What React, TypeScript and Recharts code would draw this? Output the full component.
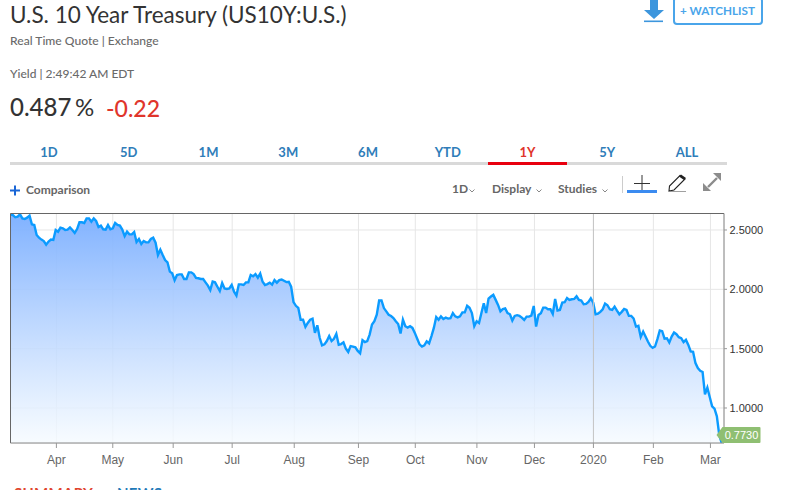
import React from "react";
import { AreaChart, Area, XAxis, YAxis, CartesianGrid, ReferenceLine, ReferenceDot } from "recharts";

const yieldsSpringSummer = [2.632,2.626,2.607,2.612,2.632,2.598,2.593,2.604,2.621,2.548,2.542,2.458,2.435,2.419,2.407,2.376,2.402,2.419,2.416,2.5,2.486,2.52,2.514,2.5,2.503,2.522,2.5,2.475,2.508,2.565,2.565,2.559,2.598,2.598,2.57,2.598,2.576,2.525,2.537,2.506,2.503,2.542,2.506,2.514,2.559,2.542,2.537,2.503,2.449,2.486,2.463,2.463,2.483,2.399,2.424,2.382,2.407,2.396,2.396,2.424,2.435,2.393,2.289,2.334,2.289,2.247,2.228,2.149,2.135,2.076,2.121,2.126,2.126,2.087,2.087,2.143,2.143,2.129,2.096,2.093,2.087,2.087,2.059,2.031,1.994,2.065,2.059,2.022,1.986,2.053,2.008,2.003,2.008,2.037,1.98,1.947,2.042,2.042,2.037,2.059,2.059,2.121,2.11,2.129,2.098];
const yieldsAutumn = [2.133,2.064,2.036,2.044,2.056,2.039,2.078,2.056,2.078,2.083,2.072,2.061,2.064,2.022,1.892,1.861,1.844,1.744,1.744,1.683,1.717,1.744,1.753,1.633,1.697,1.592,1.528,1.536,1.564,1.606,1.564,1.583,1.625,1.533,1.539,1.553,1.5,1.472,1.522,1.517,1.511,1.481,1.461,1.572,1.556,1.564,1.619,1.703,1.731,1.786,1.906,1.906,1.842,1.814,1.786,1.775,1.758,1.731,1.708,1.628,1.744,1.689,1.678,1.689,1.675,1.633,1.583,1.536,1.517,1.528,1.561,1.544,1.606,1.675,1.767,1.744,1.772,1.75,1.761,1.753,1.756,1.8,1.772,1.764,1.772,1.806,1.806,1.861,1.844,1.8,1.689,1.731,1.717,1.8,1.883,1.8,1.922,1.939,1.953,1.911,1.869,1.814,1.833,1.839,1.8];
const yieldsWinter = [1.79,1.737,1.776,1.782,1.776,1.762,1.742,1.77,1.77,1.779,1.86,1.686,1.784,1.798,1.846,1.846,1.832,1.832,1.793,1.919,1.821,1.826,1.888,1.891,1.927,1.91,1.916,1.919,1.941,1.91,1.905,1.874,1.877,1.894,1.924,1.888,1.79,1.796,1.81,1.832,1.88,1.866,1.832,1.826,1.854,1.821,1.79,1.81,1.835,1.826,1.776,1.776,1.754,1.686,1.692,1.599,1.644,1.602,1.56,1.524,1.507,1.518,1.58,1.653,1.647,1.585,1.588,1.552,1.602,1.636,1.622,1.597,1.588,1.555,1.574,1.532,1.476,1.473,1.378,1.336,1.314,1.303,1.115,1.171,1.092,1.014,0.994,0.93,0.773,0.706];
const monthLabels = ["Apr","May","Jun","Jul","Aug","Sep","Oct","Nov","Dec","2020","Feb","Mar"];
const monthSessions = [19.3,43,68.4,93.2,119.3,146.3,170.2,196.1,220.3,245.1,270.3,294.3];
const yieldTicks = [1,1.5,2,2.5];
const lastYield = 0.773;
const rangeTabs = ["1D","5D","1M","3M","6M","YTD","1Y","5Y","ALL"];

const allYields = [...yieldsSpringSummer, ...yieldsAutumn, ...yieldsWinter];
const rows = allYields.map((y, session) => ({ session, y }));
const maxSession = allYields.length;
const yDomain: [number, number] = [0.705, 2.639];

const ui = "Lato, 'Open Sans', sans-serif";
const T = (p: { x: number; y: number; s: number; c: string; w?: number; children: React.ReactNode; center?: boolean; sp?: number }) => (
  <div style={{ position: "absolute", left: p.x, top: p.y, fontSize: p.s, color: p.c, fontWeight: p.w ?? 400, fontFamily: ui, lineHeight: "1", whiteSpace: "nowrap", transform: p.center ? "translate(-50%,-50%)" : "translateY(-50%)", letterSpacing: p.sp ?? 0 }}>{p.children}</div>
);

const PriceTag = (props: any) => {
  const { cx, cy } = props;
  const l = cx - 2.5;
  return (
    <g>
      <path d={`M${l - 5} ${cy} L${l + 1} ${cy - 8} L${l + 38} ${cy - 8} Q${l + 39} ${cy - 8} ${l + 39} ${cy - 7} L${l + 39} ${cy + 7} Q${l + 39} ${cy + 8} ${l + 38} ${cy + 8} L${l + 1} ${cy + 8} Z`} fill="#8fbf72" />
      <text x={l + 20} y={cy + 4} textAnchor="middle" fontSize={11} fill="#fff" fontFamily="'Liberation Sans', Arial, sans-serif">{lastYield.toFixed(4)}</text>
    </g>
  );
};

const Chevron = ({ x, y }: { x: number; y: number }) => (
  <svg style={{ position: "absolute", left: x, top: y }} width="6" height="4"><path d="M0.5 0.5 L3 3 L5.5 0.5" stroke="#888" fill="none" strokeWidth="1" /></svg>
);

export default function App() {
  return (
    <div style={{ position: "absolute", left: 0, top: 0, width: 788, height: 490, overflow: "hidden", background: "#fff" }}>
      <T x={10} y={15} s={22.5} c="#333">U.S. 10 Year Treasury (US10Y:U.S.)</T>
      <T x={10} y={41} s={12.1} c="#6a6a6a" w={500}>Real Time Quote | Exchange</T>
      <T x={10} y={74} s={12} c="#6a6a6a" w={500}>Yield | 2:49:42 AM EDT</T>
      <T x={10} y={107} s={24} c="#333" w={500}>0.487</T>
      <T x={75} y={107} s={24} c="#333">%</T>
      <T x={106} y={108} s={23} c="#e0352b" w={500}>-0.22</T>

      <svg style={{ position: "absolute", left: 640, top: 0 }} width="28" height="26">
        <path d="M10 0 H18 V10 H24 L14 19 L4 10 H10 Z" fill="#3d96dd" />
        <rect x="4" y="20.5" width="19" height="1.6" fill="#3d96dd" />
      </svg>
      <div style={{ position: "absolute", left: 673, top: -3, width: 86, height: 24, border: "2px solid #4aa5ea", borderRadius: 4 }} />
      <T x={680} y={11} s={11.7} c="#4aa5ea" w={700}>+ WATCHLIST</T>

      {rangeTabs.map((t, i) => (
        <T key={t} x={49 + i * 79.75} y={152} s={13} c={t === "1Y" ? "#e0352b" : "#2f7db9"} w={700} center>{t}</T>
      ))}
      <div style={{ position: "absolute", left: 10, top: 162, width: 717, height: 3, background: "#d9d9d9" }} />
      <div style={{ position: "absolute", left: 488, top: 162, width: 79, height: 3, background: "#e8000f" }} />

      <svg style={{ position: "absolute", left: 10, top: 185 }} width="11" height="11"><path d="M0 5.5 H10 M5 0.5 V10.5" stroke="#1a66d6" strokeWidth="2" /></svg>
      <T x={26} y={190} s={12} c="#666" w={700}>Comparison</T>
      <T x={452} y={189} s={12} c="#666" w={700}>1D</T>
      <Chevron x={469} y={189} />
      <T x={492} y={189} s={12} c="#666" w={700}>Display</T>
      <Chevron x={536} y={189} />
      <T x={558} y={189} s={12} c="#666" w={700}>Studies</T>
      <Chevron x={602} y={189} />
      <div style={{ position: "absolute", left: 622, top: 176, width: 1, height: 17, background: "#ccc" }} />
      <svg style={{ position: "absolute", left: 625, top: 172 }} width="100" height="24">
        <path d="M9 11.5 H25 M17 3 V18" stroke="#333" strokeWidth="1" fill="none" />
        <rect x="2" y="18" width="30" height="3" fill="#3b8bf0" />
        <path d="M44 19 L44.5 14 L55 3.5 L60 7 L49 18 Z" fill="#fff" stroke="#222" strokeWidth="1.1" />
        <path d="M54 4.5 L56 2.5 L61 6 L59 8 Z" fill="#222" />
        <path d="M44 19.5 H61" stroke="#888" strokeWidth="0.8" />
        <path d="M83 15 L92 6" stroke="#8c8c8c" strokeWidth="2.4" />
        <path d="M96 1 V9 L88 1 Z M78 19 V11 L86 19 Z" fill="#8c8c8c" />
      </svg>

      <T x={14} y={493} s={15} c="#e0452f" w={700} sp={0.3}>SUMMARY</T>
      <T x={117} y={493} s={15} c="#1f7ab8" w={700} sp={0.3}>NEWS</T>

      <div style={{ position: "absolute", left: 0, top: 0 }}>
        <AreaChart width={788} height={490} data={rows} margin={{ top: 213.5, right: 0, bottom: 0, left: 10.5 }}>
          <defs>
            <linearGradient id="yieldFill" x1="0" y1="0" x2="0" y2="1">
              <stop offset="0%" stopColor="#7aaeff" stopOpacity={0.95} />
              <stop offset="100%" stopColor="#f6fbff" stopOpacity={0.8} />
            </linearGradient>
          </defs>
          <CartesianGrid stroke="#e6e6e6" strokeWidth={1} />
          <XAxis dataKey="session" type="number" domain={[0, maxSession]} ticks={monthSessions} interval={0}
            tickFormatter={(v: number) => monthLabels[monthSessions.indexOf(v)]} height={47}
            tick={{ fontSize: 12, fill: "#666", fontFamily: "'Liberation Sans', Arial, sans-serif" }}
            tickSize={5} tickMargin={7} tickLine={{ stroke: "#999" }} axisLine={{ stroke: "#888", strokeWidth: 1 }} />
          <YAxis orientation="right" type="number" domain={yDomain} allowDataOverflow ticks={yieldTicks} interval={0} width={64}
            tickFormatter={(v: number) => v.toFixed(4)}
            tick={{ fontSize: 11, fill: "#333", fontFamily: "'Liberation Sans', Arial, sans-serif", textAnchor: "start" }}
            tickSize={3} tickMargin={2.5} tickLine={{ stroke: "#999" }} axisLine={{ stroke: "#888", strokeWidth: 1 }} />
          <Area type="linear" dataKey="y" stroke="#0b9bff" strokeWidth={2.4} fill="url(#yieldFill)" fillOpacity={1} isAnimationActive={false} dot={false} activeDot={false} baseValue={yDomain[0]} />
          <ReferenceLine x={monthSessions[9]} stroke="#c4c4c4" strokeWidth={1} />
          <ReferenceLine x={0} stroke="#666" strokeWidth={1} />
          <ReferenceLine y={yDomain[1]} stroke="#666" strokeWidth={1} />
          <ReferenceDot x={maxSession} y={lastYield} r={0} ifOverflow="visible" shape={PriceTag} isFront />
        </AreaChart>
      </div>
    </div>
  );
}
